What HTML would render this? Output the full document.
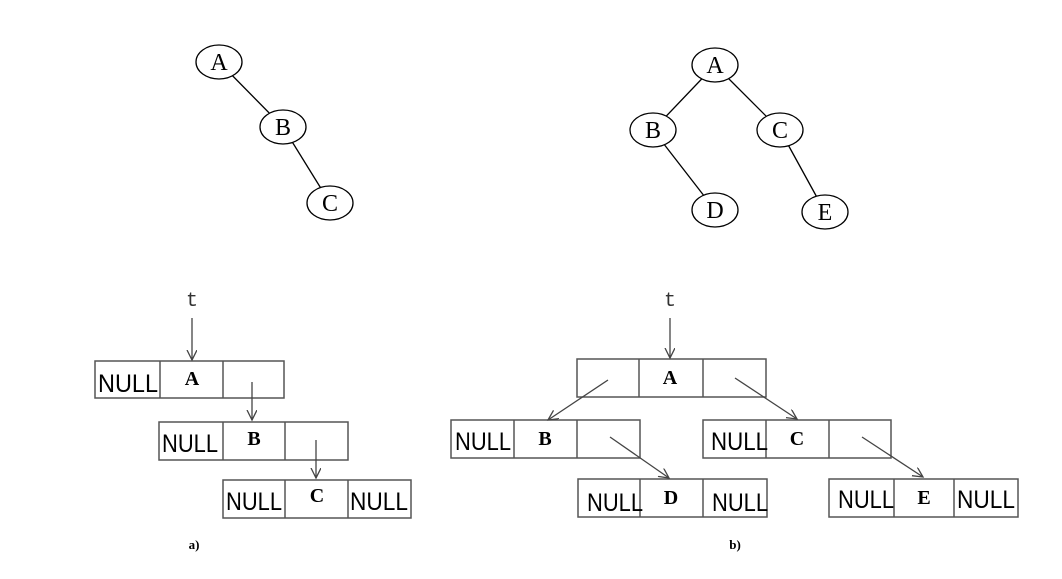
<!DOCTYPE html>
<html><head><meta charset="utf-8"><style>
html,body{margin:0;padding:0;background:#fff}
svg{display:block}
.n{font-family:"Liberation Serif",serif;font-size:24px}
.b{font-family:"Liberation Serif",serif;font-size:20px;font-weight:bold}
.nl{font-family:"Liberation Sans",sans-serif;font-size:25px}
</style></head><body>
<svg width="1062" height="579" viewBox="0 0 1062 579" xmlns="http://www.w3.org/2000/svg">
<defs><marker id="ar" markerWidth="12" markerHeight="12" refX="10" refY="5" orient="auto" markerUnits="userSpaceOnUse"><path d="M0,0 L10,5 L0,10" fill="none" stroke="#444" stroke-width="1.3"/></marker></defs>
<g stroke="#000" stroke-width="1.3" fill="none">
<line x1="219" y1="62" x2="283" y2="127"/><line x1="283" y1="127" x2="330" y2="203"/>
<line x1="715" y1="65" x2="653" y2="130"/><line x1="715" y1="65" x2="780" y2="130"/>
<line x1="653" y1="130" x2="715" y2="210"/><line x1="780" y1="130" x2="825" y2="212"/>
</g>
<g stroke="#000" stroke-width="1.3" fill="#fff">
<ellipse cx="219" cy="62" rx="23" ry="17"/><ellipse cx="283" cy="127" rx="23" ry="17"/><ellipse cx="330" cy="203" rx="23" ry="17"/>
<ellipse cx="715" cy="65" rx="23" ry="17"/><ellipse cx="653" cy="130" rx="23" ry="17"/><ellipse cx="780" cy="130" rx="23" ry="17"/>
<ellipse cx="715" cy="210" rx="23" ry="17"/><ellipse cx="825" cy="212" rx="23" ry="17"/>
</g>
<g class="n" text-anchor="middle">
<text x="219" y="70">A</text><text x="283" y="135">B</text><text x="330" y="211">C</text>
<text x="715" y="73">A</text><text x="653" y="138">B</text><text x="780" y="138">C</text><text x="715" y="218">D</text><text x="825" y="220">E</text>
</g>
<g stroke="#555" stroke-width="1.5" fill="none">
<rect x="95" y="361" width="189" height="37"/><line x1="160" y1="361" x2="160" y2="398"/><line x1="223" y1="361" x2="223" y2="398"/>
<rect x="159" y="422" width="189" height="38"/><line x1="223" y1="422" x2="223" y2="460"/><line x1="285" y1="422" x2="285" y2="460"/>
<rect x="223" y="480" width="188" height="38"/><line x1="285" y1="480" x2="285" y2="518"/><line x1="348" y1="480" x2="348" y2="518"/>
<rect x="577" y="359" width="189" height="38"/><line x1="639" y1="359" x2="639" y2="397"/><line x1="703" y1="359" x2="703" y2="397"/>
<rect x="451" y="420" width="189" height="38"/><line x1="514" y1="420" x2="514" y2="458"/><line x1="577" y1="420" x2="577" y2="458"/>
<rect x="703" y="420" width="188" height="38"/><line x1="766" y1="420" x2="766" y2="458"/><line x1="829" y1="420" x2="829" y2="458"/>
<rect x="578" y="479" width="189" height="38"/><line x1="640" y1="479" x2="640" y2="517"/><line x1="703" y1="479" x2="703" y2="517"/>
<rect x="829" y="479" width="189" height="38"/><line x1="894" y1="479" x2="894" y2="517"/><line x1="954" y1="479" x2="954" y2="517"/>
</g>
<g stroke="#444" stroke-width="1.3" marker-end="url(#ar)">
<line x1="192" y1="318" x2="192" y2="360"/>
<line x1="252" y1="382" x2="252" y2="420"/>
<line x1="316" y1="440" x2="316" y2="478"/>
<line x1="670" y1="318" x2="670" y2="358"/>
<line x1="608" y1="380" x2="548" y2="420"/>
<line x1="735" y1="378" x2="797" y2="419"/>
<line x1="610" y1="437" x2="669" y2="478"/>
<line x1="862" y1="437" x2="923" y2="477"/>
</g>
<g font-family="Liberation Mono,monospace" font-size="20" text-anchor="middle" fill="#333">
<text x="192" y="306">t</text><text x="670" y="306">t</text>
</g>
<g class="b" text-anchor="middle">
<text x="192" y="385">A</text><text x="254" y="445">B</text><text x="317" y="502">C</text>
<text x="670" y="384">A</text><text x="545" y="445">B</text><text x="797" y="445">C</text><text x="671" y="504">D</text><text x="924" y="504">E</text>
</g>
<g class="nl">
<text x="98" y="392" textLength="60" lengthAdjust="spacingAndGlyphs">NULL</text>
<text x="162" y="452" textLength="56" lengthAdjust="spacingAndGlyphs">NULL</text>
<text x="226" y="510" textLength="56" lengthAdjust="spacingAndGlyphs">NULL</text>
<text x="350" y="510" textLength="58" lengthAdjust="spacingAndGlyphs">NULL</text>
<text x="455" y="450" textLength="56" lengthAdjust="spacingAndGlyphs">NULL</text>
<text x="711" y="450" textLength="57" lengthAdjust="spacingAndGlyphs">NULL</text>
<text x="587" y="511" textLength="56" lengthAdjust="spacingAndGlyphs">NULL</text>
<text x="712" y="511" textLength="56" lengthAdjust="spacingAndGlyphs">NULL</text>
<text x="838" y="508" textLength="56" lengthAdjust="spacingAndGlyphs">NULL</text>
<text x="957" y="508" textLength="58" lengthAdjust="spacingAndGlyphs">NULL</text>
</g>
<g font-family="Liberation Serif,serif" font-size="13" font-weight="bold" text-anchor="middle">
<text x="194" y="549">a)</text><text x="735" y="549">b)</text>
</g>
</svg>
</body></html>
